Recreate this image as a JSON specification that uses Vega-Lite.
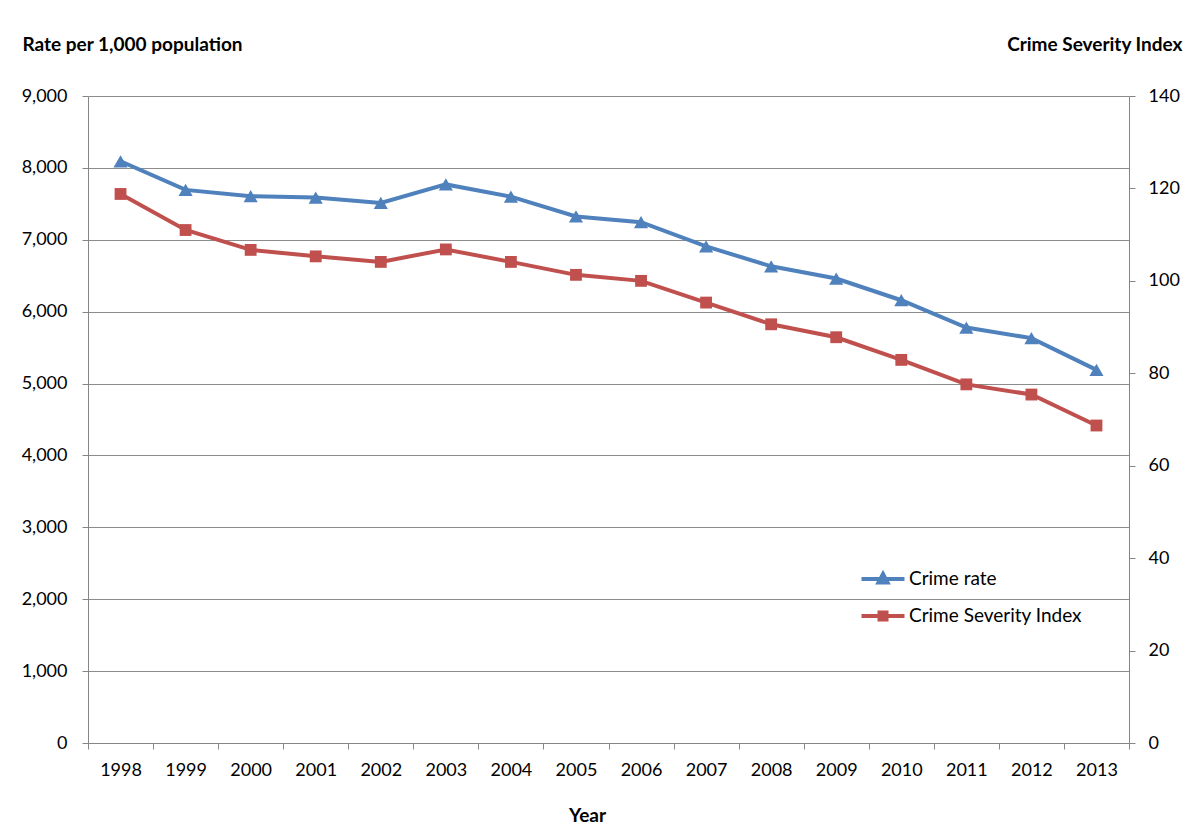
{
  "$schema": "https://vega.github.io/schema/vega-lite/v6.json",
  "autosize": {"type": "none"},
  "padding": {"left": 88, "top": 96, "right": 75, "bottom": 97},
  "width": 1041,
  "height": 647,
  "background": "white",
  "config": {
    "view": {"stroke": null},
    "font": "Lato",
    "axis": {
      "domainColor": "#868686",
      "tickColor": "#868686",
      "gridColor": "#8c8c8c",
      "tickSize": 6,
      "labelColor": "#000000",
      "labelFont": "Lato",
      "labelFontSize": 18,
      "titleFont": "Lato",
      "titleFontSize": 19,
      "titleFontWeight": "bold",
      "titleColor": "#000000"
    }
  },
  "data": {
    "values": [
      {"year": "1998", "rate": 8092, "csi": 118.8},
      {"year": "1999", "rate": 7694, "csi": 111.0},
      {"year": "2000", "rate": 7607, "csi": 106.7},
      {"year": "2001", "rate": 7587, "csi": 105.3},
      {"year": "2002", "rate": 7512, "csi": 104.1},
      {"year": "2003", "rate": 7770, "csi": 106.8},
      {"year": "2004", "rate": 7600, "csi": 104.1},
      {"year": "2005", "rate": 7325, "csi": 101.3},
      {"year": "2006", "rate": 7245, "csi": 100.0},
      {"year": "2007", "rate": 6908, "csi": 95.3},
      {"year": "2008", "rate": 6631, "csi": 90.6},
      {"year": "2009", "rate": 6461, "csi": 87.8},
      {"year": "2010", "rate": 6159, "csi": 82.9},
      {"year": "2011", "rate": 5779, "csi": 77.6},
      {"year": "2012", "rate": 5632, "csi": 75.4},
      {"year": "2013", "rate": 5190, "csi": 68.7}
    ]
  },
  "encoding": {
    "x": {
      "field": "year",
      "type": "ordinal",
      "scale": {"type": "band", "paddingInner": 0, "paddingOuter": 0},
      "axis": {
        "labelAngle": 0,
        "tickBand": "extent",
        "labelPadding": 12,
        "title": "Year",
        "titleX": 499,
        "titleY": 72,
        "titleBaseline": "middle",
        "titleAnchor": null,
        "titleAlign": "center"
      }
    }
  },
  "layer": [
    {
      "mark": {"type": "line", "strokeWidth": 4, "point": {"shape": "triangle-up", "size": 200, "filled": true, "opacity": 1}},
      "encoding": {
        "y": {
          "field": "rate",
          "type": "quantitative",
          "scale": {"domain": [0, 9000]},
          "axis": {
            "orient": "left",
            "values": [0, 1000, 2000, 3000, 4000, 5000, 6000, 7000, 8000, 9000],
            "format": ",.0f",
            "grid": true,
            "labelPadding": 15,
            "title": "Rate per 1,000 population",
            "titleAngle": 0,
            "titleX": -66,
            "titleY": -52,
            "titleAlign": "left",
            "titleBaseline": "middle",
            "titleAnchor": null
          }
        },
        "color": {
          "datum": "Crime rate",
          "scale": {"domain": ["Crime rate", "Crime Severity Index"], "range": ["#4F81BD", "#C0504D"]},
          "legend": {
            "orient": "none",
            "legendX": 783,
            "legendY": 471,
            "title": null,
            "padding": 0,
            "symbolSize": 400,
            "symbolStrokeWidth": 4,
            "labelFont": "Lato",
            "labelFontSize": 19,
            "labelColor": "#000000",
            "labelLimit": 400,
            "labelOffset": 14,
            "rowPadding": 13,
            "encode": {
              "symbols": {
                "update": {
                  "shape": {"signal": "datum.value == 'Crime rate' ? 'M-2.15,0H2.15M0,-0.5L0.45,0.35L-0.45,0.35Z' : 'M-2.15,0H2.15M-0.35,-0.35H0.35V0.35H-0.35Z'"},
                  "fill": {"signal": "scale('color', datum.value)"},
                  "stroke": {"signal": "scale('color', datum.value)"},
                  "strokeWidth": {"value": 4},
                  "opacity": {"value": 1},
                  "fillOpacity": {"value": 1},
                  "strokeOpacity": {"value": 1}
                }
              }
            }
          }
        }
      }
    },
    {
      "mark": {"type": "line", "strokeWidth": 4, "point": {"shape": "square", "size": 140, "filled": true, "opacity": 1}},
      "encoding": {
        "y": {
          "field": "csi",
          "type": "quantitative",
          "scale": {"domain": [0, 140]},
          "axis": {
            "orient": "right",
            "values": [0, 20, 40, 60, 80, 100, 120, 140],
            "grid": false,
            "labelPadding": 13,
            "title": "Crime Severity Index",
            "titleAngle": 0,
            "titleX": 53,
            "titleY": -52,
            "titleAlign": "right",
            "titleBaseline": "middle",
            "titleAnchor": null
          }
        },
        "color": {"datum": "Crime Severity Index"}
      }
    }
  ],
  "resolve": {"scale": {"y": "independent"}}
}
